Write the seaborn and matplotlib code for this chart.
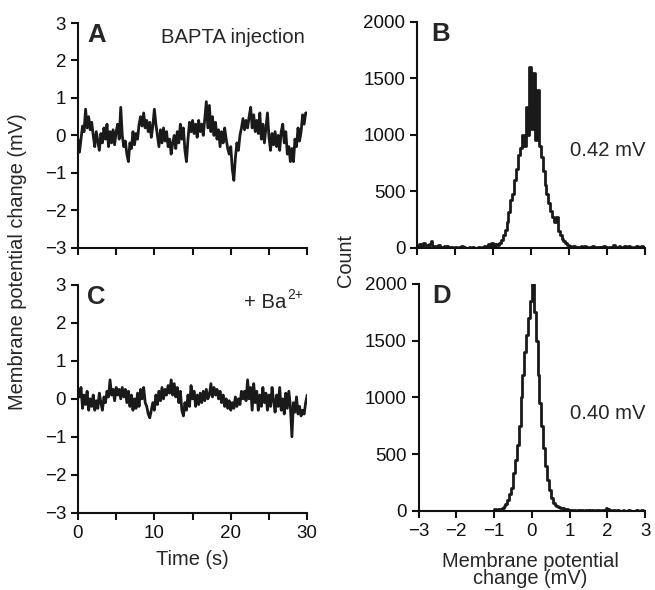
import matplotlib
matplotlib.use("Agg")
import matplotlib.pyplot as plt
import numpy as np
import pandas as pd
import seaborn as sns

# Membrane potential traces (mV), sampled every 0.2 s over 30 s
trace_bapta = [
    -0.1, -0.45, -0.1, 0.25, 0.1, 0.7, 0.2, 0.5, 0.15, 0.35,
    0.0, -0.3, 0.1, -0.15, -0.4, 0.05, -0.2, 0.2, -0.1, 0.3,
    -0.3, 0.1, -0.2, 0.15, -0.25, 0.1, 0.3, -0.1, 0.75, 0.0,
    -0.3, -0.15, -0.5, -0.7, -0.2, -0.35, 0.1, -0.25, 0.05, -0.1,
    0.3, 0.5, 0.25, 0.6, 0.2, 0.4, 0.1, 0.35, -0.05, 0.25,
    0.7, 0.3, 0.0, -0.3, 0.15, -0.2, 0.2, -0.15, 0.1, -0.3,
    -0.1, -0.5, -0.2, 0.0, -0.35, 0.1, -0.2, 0.3, -0.1, 0.2,
    -0.4, -0.7, -0.1, 0.35, 0.1, 0.4, 0.05, 0.3, -0.05, 0.4,
    0.1, 0.3, 0.0, 0.45, 0.9, 0.2, 0.8, 0.1, 0.5, 0.0,
    0.35, -0.1, 0.15, -0.3, 0.1, -0.2, 0.2, -0.1, -0.35, -0.5,
    -0.3, -0.9, -1.2, -0.6, -0.2, -0.4, 0.0, 0.2, 0.45, 0.15,
    0.4, 0.2, 0.5, 0.75, 0.2, 0.55, 0.1, 0.4, 0.05, 0.6,
    -0.1, 0.3, -0.2, 0.2, 0.6, -0.05, -0.4, 0.05, -0.25, 0.1,
    -0.3, 0.0, -0.4, 0.1, 0.3, -0.2, 0.1, -0.5, -0.3, -0.7,
    -0.35, -0.7, -0.1, -0.3, 0.2, -0.15, 0.1, 0.55, 0.3, 0.6,
    0.6,
]
trace_barium = [
    0.25, 0.05, 0.3, -0.25, 0.1, -0.15, 0.2, -0.3, 0.0, -0.2,
    0.1, -0.3, -0.05, -0.25, 0.15, -0.1, -0.3, 0.05, -0.1, 0.2,
    0.05, 0.5, 0.1, 0.25, -0.05, 0.3, 0.1, 0.25, 0.0, 0.3,
    0.05, 0.25, -0.1, 0.2, -0.2, 0.1, -0.3, 0.0, -0.25, 0.15,
    -0.2, 0.25, 0.0, 0.3, -0.1, -0.2, -0.4, -0.5, -0.3, -0.1,
    -0.3, 0.1, -0.15, 0.2, -0.05, 0.3, 0.0, 0.25, 0.1, 0.35,
    0.15, 0.5, 0.1, 0.4, 0.05, 0.3, -0.1, 0.2, -0.3, -0.45,
    -0.1, -0.3, 0.1, -0.2, 0.35, 0.0, 0.2, -0.2, 0.1, -0.15,
    0.15, -0.1, 0.2, -0.05, 0.25, 0.0, 0.1, 0.4, 0.05, 0.3,
    0.1, 0.25, 0.0, 0.2, -0.1, 0.1, -0.2, 0.0, -0.25, -0.05,
    -0.3, -0.1, -0.25, 0.05, -0.2, 0.0, -0.15, 0.2, 0.0, 0.2,
    -0.05, 0.5, 0.0, 0.3, -0.3, 0.4, -0.1, 0.2, -0.3, 0.1,
    -0.2, 0.3, -0.1, 0.15, -0.3, 0.1, -0.2, 0.3, -0.05, -0.35,
    0.1, -0.2, 0.3, -0.3, 0.0, -0.4, 0.15, -0.25, 0.2, -0.2,
    -1.0, -0.1, -0.35, 0.05, -0.4, -0.2, -0.45, -0.3, -0.4, -0.1,
    0.1,
]

# Amplitude histograms: counts in 0.05 mV bins from -3 to 3 mV
counts_bapta = [
    20, 35, 15, 40, 25, 10, 30, 60, 20, 15, 5, 25, 10, 0, 15, 20, 0, 10, 5, 0,
    10, 0, 5, 15, 5, 0, 0, 5, 0, 10, 0, 0, 5, 0, 10, 20, 5, 30, 15, 40,
    20, 30, 25, 40, 70, 110, 160, 230, 320, 420,
    480, 600, 700, 820, 880, 1000, 900, 1250, 1000, 1600,
    1050, 1550, 950, 1400, 900, 800, 680, 560, 480, 400,
    330, 270, 230, 270, 150, 110, 80, 60, 40, 25,
    15, 10, 20, 5, 10, 0, 15, 5, 20, 10, 0, 5, 15, 0, 10, 5, 0, 10, 20, 5,
    0, 10, 5, 25, 10, 5, 15, 0, 10, 20, 5, 15, 10, 0, 5, 15, 10, 5, 20, 10,
]
counts_barium = [
    0, 0, 0, 0, 0, 0, 0, 0, 0, 0, 0, 0, 0, 0, 0, 0, 0, 0, 0, 0,
    0, 0, 0, 0, 0, 0, 0, 0, 0, 0, 0, 0, 0, 0, 0, 0, 0, 0, 0, 0,
    15, 5, 20, 10, 30, 40, 60, 100, 150, 200,
    330, 450, 580, 750, 1000, 1200, 1400, 1550, 1700, 1850,
    2000, 1750, 1500, 1200, 950, 750, 550, 400, 270, 180,
    110, 70, 50, 40, 35, 30, 25, 20, 15, 10,
    10, 5, 10, 0, 5, 10, 5, 0, 5, 10, 0, 5, 5, 0, 10, 5, 0, 5, 10, 30,
    15, 5, 0, 5, 0, 5, 0, 0, 5, 0, 0, 5, 0, 0, 0, 10, 0, 0, 5, 0,
]
sd_labels = ["0.42 mV", "0.40 mV"]

sns.set_style("ticks")
plt.rcParams["font.family"] = ["Liberation Sans", "DejaVu Sans"]
plt.rcParams.update({
    "axes.linewidth": 1.5,
    "xtick.major.width": 1.5,
    "ytick.major.width": 1.5,
    "xtick.major.size": 5,
    "ytick.major.size": 5,
    "xtick.labelsize": 13.5,
    "ytick.labelsize": 13.5,
    "xtick.color": "#111111",
    "ytick.color": "#111111",
    "axes.edgecolor": "#111111",
})

fig = plt.figure(figsize=(6.55, 5.9), dpi=100)
ax_a = fig.add_axes([0.119, 0.580, 0.350, 0.381])
ax_c = fig.add_axes([0.119, 0.131, 0.350, 0.386])
ax_b = fig.add_axes([0.637, 0.580, 0.348, 0.383])
ax_d = fig.add_axes([0.639, 0.134, 0.346, 0.385])

line_col = "#1a1a1a"
bin_w = 0.05
centers = np.arange(-3 + bin_w / 2, 3, bin_w)

for ax, trace, letter in [
    (ax_a, trace_bapta, "A"),
    (ax_c, trace_barium, "C"),
]:
    df = pd.DataFrame({"time": np.linspace(0, 30, len(trace)), "mv": trace})
    sns.lineplot(data=df, x="time", y="mv", ax=ax, color=line_col, linewidth=2.0)
    ax.set_xlim(0, 30)
    ax.set_ylim(-3, 3)
    ax.set_xticks([0, 5, 10, 15, 20, 25, 30])
    ax.set_yticks([-3, -2, -1, 0, 1, 2, 3])
    ax.set_xlabel("")
    ax.set_ylabel("")
    ax.text(0.04, 1.0, letter, transform=ax.transAxes, fontsize=18.5,
            fontweight="bold", va="top", ha="left")
    sns.despine(ax=ax)

ax_a.text(0.99, 0.935, "BAPTA injection", transform=ax_a.transAxes,
          fontsize=14.6, va="center", ha="right")
# "+ Ba" with a raised "2+" so the charge sign keeps tight spacing
ax_c.annotate("+ Ba", xy=(0.975, 0.925), xycoords="axes fraction",
              xytext=(-11, 0), textcoords="offset points",
              fontsize=14.6, va="center", ha="right")
ax_c.annotate("2+", xy=(0.975, 0.925), xycoords="axes fraction",
              xytext=(-10.5, 5), textcoords="offset points",
              fontsize=10, va="center", ha="left")

ax_a.set_xticklabels([])
ax_c.set_xticklabels(["0", "", "10", "", "20", "", "30"])

for ax, counts, letter, sd in [
    (ax_b, counts_bapta, "B", sd_labels[0]),
    (ax_d, counts_barium, "D", sd_labels[1]),
]:
    hist_df = pd.DataFrame({"mv": centers[:len(counts)], "count": counts})
    sns.histplot(data=hist_df, x="mv", weights="count", binwidth=bin_w,
                 binrange=(-3, 3), element="step", fill=False,
                 color=line_col, linewidth=2.0, ax=ax)
    ax.set_xlim(-3, 3)
    ax.set_ylim(0, 2000)
    ax.set_xticks([-3, -2, -1, 0, 1, 2, 3])
    ax.set_yticks([0, 500, 1000, 1500, 2000])
    ax.set_xlabel("")
    ax.set_ylabel("")
    ax.text(0.06, 1.0, letter, transform=ax.transAxes, fontsize=18.5,
            fontweight="bold", va="top", ha="left")
    ax.text(1.0, 0.43, sd, transform=ax.transAxes, fontsize=14.6,
            va="center", ha="right")
    sns.despine(ax=ax)

ax_b.set_xticklabels([])

fig.text(0.027, 0.557, "Membrane potential change (mV)", rotation=90,
         fontsize=14.4, va="center", ha="center")
fig.text(0.528, 0.558, "Count", rotation=90, fontsize=14.4,
         va="center", ha="center")
fig.text(0.293, 0.051, "Time (s)", fontsize=14.4, va="center", ha="center")
fig.text(0.81, 0.034, "Membrane potential\nchange (mV)", fontsize=14.4,
         va="center", ha="center", linespacing=0.9)

fig.savefig("out.png", dpi=100)
